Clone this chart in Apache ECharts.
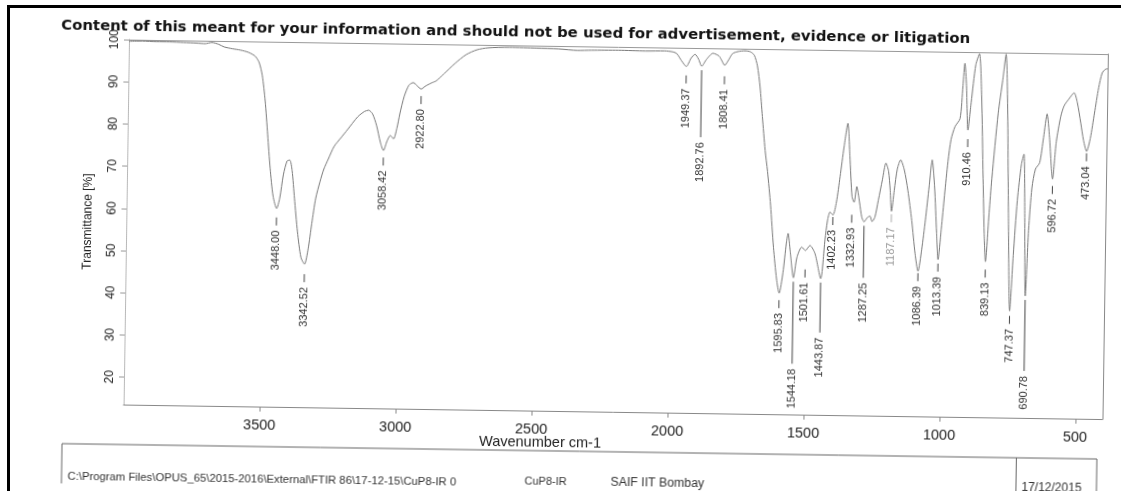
<!DOCTYPE html>
<html>
<head>
<meta charset="utf-8">
<script src="https://cdn.jsdelivr.net/npm/echarts@6/dist/echarts.min.js"></script>
<style>
html,body{margin:0;padding:0;background:#fff;overflow:hidden;width:1121px;height:491px;}
#wrap{position:absolute;left:0;top:0;width:1121px;height:491px;transform:rotate(0.85deg);transform-origin:560px 245px;background:#fff;}
#chart{width:1121px;height:491px;}
#bt{position:absolute;left:7px;top:5px;width:1114px;height:3px;background:#000;}
#bl{position:absolute;left:7px;top:5px;width:3px;height:486px;background:#000;}
</style>
</head>
<body>
<div id="wrap"><div id="chart"></div></div>
<div id="bt"></div><div id="bl"></div>
<script>
// ---- data ----
var titleText = 'Content of this meant for your information and should not be used for advertisement, evidence or litigation';
var xAxisName = 'Wavenumber cm-1';
var yAxisName = 'Transmittance [%]';
var xTicks = [500, 1000, 1500, 2000, 2500, 3000, 3500];
var yTicks = [20, 30, 40, 50, 60, 70, 80, 90, 100];

var wavenumber = [
4000,3950,3900,3850,3800,3750,3720,3695,3670,3650,3620,3590,3560,3535,3520,3508,3496,3485,3474,3462,
3448,3437,3425,3412,3402,3393,3383,3370,3356,3342.52,3330,3318,3305,3290,3277,3260,3240,3215,3192,3155,
3130,3115,3100,3085,3070,3058.42,3046,3034,3022,3010,3000,2985,2968,2952,2937,2922.80,2908,2885,2868,2840,
2800,2760,2720,2680,2600,2500,2420,2350,2300,2200,2100,2030,2000,1985,1968,1949.37,1932,1918,1905,1892.76,
1876,1852,1830,1820,1808.41,1795,1780,1760,1735,1715,1700,1688,1677,1667,1655,1645,1632,1619,1606,1595.83,
1583,1572,1566,1557,1544.18,1532,1515,1501.61,1485,1466,1443.87,1430,1422,1413,1402.23,1390,1378,1365,1352,1343,
1332.93,1325,1316,1305,1296,1287.25,1276,1266,1258,1248,1236,1222,1210,1200,1193,1187.17,1178,1168,1156,1142,
1128,1112,1098,1086.39,1074,1062,1050,1040,1030,1020,1013.39,1003,993,982,972,958,940,931,925,918,
910.46,900,885,872,862,852,845,839.13,828,820,800,785,774,766,757,747.37,737,725,712,703,
697,690.78,682,672,660,645,632,620,610,596.72,585,570,558,540,522,510,496,485,473.04,460,
446,432,420,408,400
];
var transmittance = [
99.6,99.7,99.6,99.6,99.5,99.4,99.3,99.6,99.2,98.6,98.2,97.9,97.4,96.5,95,92,86,78,70,63.5,
60.5,63,68.5,71.8,72,69.5,63,55,49,47.4,51,57,63,67,69.9,72.5,75.4,77.5,79.4,82.5,
83.8,84.1,83.2,80.5,76.5,74.6,76.8,78.2,77.4,80,83.4,87.5,90.2,90.8,90,89.3,90,90.8,91.3,93,
95.5,97.6,98.8,99.3,99.5,99.4,99.3,99.0,99.1,99.2,99.1,99.2,99.0,98.6,97,95.6,97.6,98.5,97.4,95.7,
97.3,98.8,98.2,97.2,96,97.2,98.8,99.3,99.5,99.3,98.5,96,91,84,76,71,63,53,45.5,42.2,
47,54,56.4,52,45.9,50.8,53.2,52.4,53.6,51.7,45.8,55,59.5,61.6,60.9,64,70,77,82.7,75,
65.3,64,67.7,64,60.5,59.4,60.4,60.8,59.5,60.5,64.6,69.5,73.4,71.5,67,62,67,72,74.2,71.8,
67,59.8,52,47.9,53,60,68,74.3,68,57,50.7,58,66,74,79.2,82.3,84.2,92,97.3,92,
81.5,88,97,99.6,90,70,57,50.4,62,70,85.6,93.5,99.6,88,62,38.8,52,65,73.5,76,
62,42.4,58,68,72.5,74,80,85.6,80,70.2,79,85,87.6,89.3,90.7,88.5,83.6,79.5,76.9,80,
86,92,95.5,96.4,96.5
];

var peakWavenumber = [3448.00,3342.52,3058.42,2922.80,1949.37,1892.76,1808.41,1595.83,1544.18,1501.61,1443.87,
  1402.23,1332.93,1287.25,1187.17,1086.39,1013.39,910.46,839.13,747.37,690.78,596.72,473.04];

// ---- layout (pixel distance from a band's minimum down to its label) ----
var peakLabelDrop = [22,23,20,20,22,76,24,20,91,32,59,15,31,61,16,15,17,22,21,18,80,20,15];
var fadedLabels = [1187.17];

var footerPath = 'C:\\Program Files\\OPUS_65\\2015-2016\\External\\FTIR 86\\17-12-15\\CuP8-IR 0';
var footerSample = 'CuP8-IR';
var footerLab = 'SAIF IIT Bombay';
var footerDate = '17/12/2015';

// ---- build ----
var spectrum = wavenumber.map(function (w, i) { return [w, transmittance[i]]; });
function tAt(w) { return transmittance[wavenumber.indexOf(w)]; }
var peakData = peakWavenumber.map(function (w, i) { return [w, tAt(w), peakLabelDrop[i]]; });

var FONT = 'Liberation Sans, Arial, sans-serif';
var chart = echarts.init(document.getElementById('chart'));
chart.setOption({
  animation: false,
  backgroundColor: '#fff',
  title: {
    text: titleText, left: 58, top: 26, padding: 0,
    textStyle: { fontFamily: 'DejaVu Sans, sans-serif', fontWeight: 'bold', fontSize: 14.9, color: '#111' }
  },
  grid: { left: 126, right: 16, top: 46, bottom: 80 },
  xAxis: [{
    type: 'value', min: 400, max: 4000, inverse: true,
    axisLine: { show: true, onZero: false, lineStyle: { color: '#888', width: 1 } },
    axisTick: { show: true, length: 5, customValues: xTicks, lineStyle: { color: '#888' } },
    axisLabel: { customValues: xTicks, margin: 11, fontFamily: FONT, fontSize: 14.5, color: '#222',
      formatter: function (v) { return String(v); } },
    splitLine: { show: false }
  }, {
    type: 'value', position: 'top', min: 400, max: 4000, inverse: true,
    axisLine: { show: true, onZero: false, lineStyle: { color: '#999', width: 1 } },
    axisTick: { show: false }, axisLabel: { show: false }, splitLine: { show: false }
  }],
  yAxis: [{
    type: 'value', min: 13.5, max: 100,
    name: yAxisName, nameLocation: 'middle', nameGap: 32,
    nameTextStyle: { fontFamily: FONT, fontSize: 12, color: '#222' },
    axisLine: { show: true, onZero: false, lineStyle: { color: '#aaa', width: 1, type: 'dotted' } },
    axisTick: { show: true, length: 5, customValues: yTicks, lineStyle: { color: '#999' } },
    axisLabel: { customValues: yTicks, rotate: 90, margin: 8, fontFamily: FONT, fontSize: 12, color: '#222',
      formatter: function (v) { return String(v); } },
    splitLine: { show: false }
  }, {
    type: 'value', position: 'right', min: 13.5, max: 100,
    axisLine: { show: true, onZero: false, lineStyle: { color: '#888', width: 1 } },
    axisTick: { show: false }, axisLabel: { show: false }, splitLine: { show: false }
  }],
  series: [{
    type: 'line', data: spectrum, symbol: 'none', smooth: 0.25,
    lineStyle: { color: '#7a7a7a', width: 1 }, z: 2
  }, {
    type: 'custom', data: peakData, clip: false, z: 3,
    renderItem: function (params, api) {
      var w = api.value(0), t = api.value(1), drop = api.value(2);
      var p = api.coord([w, t]);
      var textTop = p[1] + drop;
      var lineStart = drop > 45 ? p[1] + 4 : textTop - 13;
      var lineEnd = textTop - 5;
      var faded = fadedLabels.indexOf(w) >= 0;
      return {
        type: 'group',
        children: [{
          type: 'line',
          shape: { x1: p[0], y1: lineStart, x2: p[0], y2: lineEnd },
          style: { stroke: faded ? '#aaa' : '#444', lineWidth: 1 }
        }, {
          type: 'text', x: p[0], y: textTop, rotation: Math.PI / 2,
          style: {
            text: w.toFixed(2), fill: faded ? '#999' : '#333',
            fontSize: 11, fontFamily: FONT,
            align: 'right', verticalAlign: 'middle'
          }
        }]
      };
    }
  }],
  graphic: [
    { type: 'text', x: 543, y: 443, style: { text: xAxisName, fontFamily: FONT, fontSize: 14.5, fill: '#222', align: 'center', verticalAlign: 'middle' } },
    { type: 'line', shape: { x1: 65, y1: 451, x2: 1100, y2: 451 }, style: { stroke: '#666', lineWidth: 1 } },
    { type: 'line', shape: { x1: 65, y1: 451, x2: 65, y2: 500 }, style: { stroke: '#666', lineWidth: 1 } },
    { type: 'line', shape: { x1: 1019.5, y1: 451, x2: 1019.5, y2: 500 }, style: { stroke: '#666', lineWidth: 1 } },
    { type: 'line', shape: { x1: 1100, y1: 451, x2: 1100, y2: 500 }, style: { stroke: '#666', lineWidth: 1 } },
    { type: 'text', x: 71, y: 483.5, style: { text: footerPath, fontFamily: FONT, fontSize: 11.3, fill: '#333', verticalAlign: 'middle' } },
    { type: 'text', x: 528, y: 482, style: { text: footerSample, fontFamily: FONT, fontSize: 11, fill: '#333', verticalAlign: 'middle' } },
    { type: 'text', x: 614, y: 482, style: { text: footerLab, fontFamily: FONT, fontSize: 12.3, fill: '#333', verticalAlign: 'middle' } },
    { type: 'text', x: 1025, y: 481, style: { text: footerDate, fontFamily: FONT, fontSize: 12, fill: '#333', verticalAlign: 'middle' } }
  ]
});
</script>
</body>
</html>
